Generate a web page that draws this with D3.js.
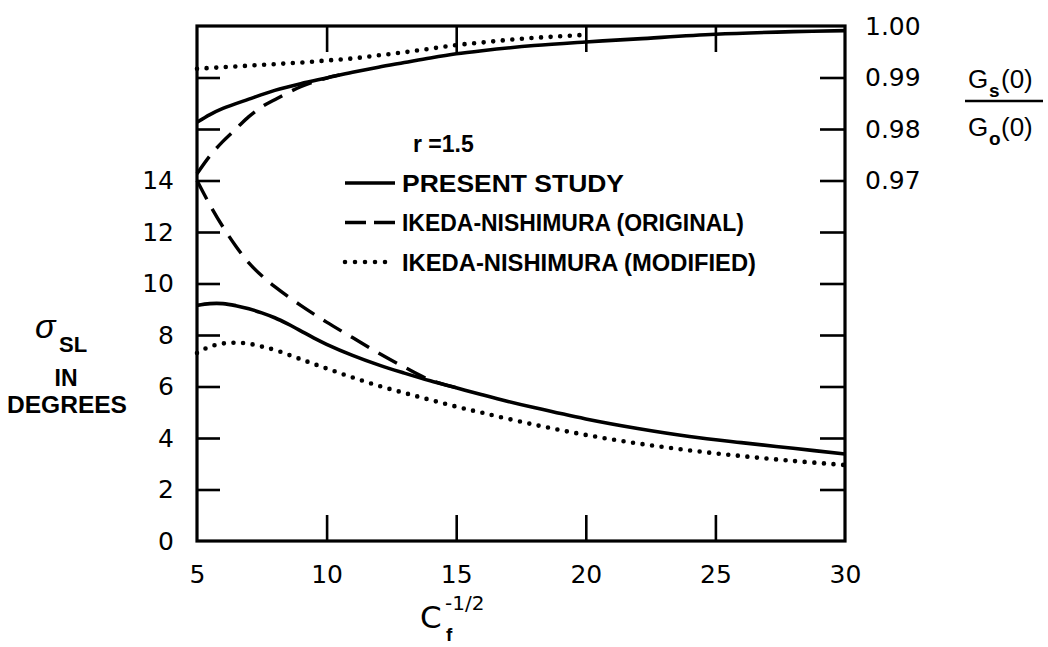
<!DOCTYPE html>
<html>
<head>
<meta charset="utf-8">
<script src="https://cdn.jsdelivr.net/npm/d3@7"></script>
<style>
  html, body { margin: 0; padding: 0; background: #fff; }
  svg { display: block; }
  text { font-family: "Liberation Sans", Arial, sans-serif; fill: #000; }
</style>
</head>
<body>
<svg id="chart" width="1048" height="647"></svg>
<script>
// C_f^(-1/2) values at which each curve was sampled
const cfPresentLow = [5, 5.5, 6, 6.5, 7, 7.5, 8, 8.5, 9, 9.5, 10, 11, 12, 13, 14, 15, 16, 17, 18, 20, 22, 24, 26, 28, 30];
const sigmaPresent = [9.15, 9.22, 9.22, 9.14, 9.02, 8.86, 8.67, 8.43, 8.16, 7.89, 7.64, 7.21, 6.84, 6.52, 6.22, 5.95, 5.68, 5.42, 5.18, 4.74, 4.37, 4.06, 3.82, 3.6, 3.38];

const cfOriginalLow = [5, 5.5, 6, 6.5, 7, 7.5, 8, 9, 10, 11, 12, 13, 14, 15];
const sigmaOriginal = [14.0, 13.05, 12.2, 11.45, 10.8, 10.3, 9.88, 9.15, 8.5, 7.9, 7.3, 6.75, 6.25, 5.95];

const cfModifiedLow = [5, 5.5, 6, 6.5, 7, 7.5, 8, 9, 10, 11, 12, 13, 14, 15, 16, 18, 20, 22, 24, 26, 28, 30];
const sigmaModified = [7.3, 7.55, 7.67, 7.7, 7.66, 7.55, 7.42, 7.06, 6.7, 6.35, 6.03, 5.75, 5.48, 5.22, 4.98, 4.52, 4.12, 3.79, 3.52, 3.3, 3.11, 2.95];

// Gs(0)/G0(0), read on the right-hand axis
const cfPresentHigh = [5, 5.5, 6, 7, 8, 9, 10, 11, 12, 13, 14, 15, 16, 18, 20, 22, 25, 28, 30];
const ratioPresent = [0.9813, 0.9828, 0.9840, 0.9858, 0.9875, 0.9888, 0.9899, 0.9910, 0.9920, 0.9929, 0.9938, 0.9946, 0.9952, 0.9962, 0.9969, 0.9975, 0.9984, 0.9989, 0.9991];

const cfOriginalHigh = [5, 5.5, 6, 6.5, 7, 7.5, 8, 9, 10, 10.5];
const ratioOriginal = [0.9713, 0.9748, 0.9776, 0.9800, 0.9824, 0.9843, 0.9857, 0.9882, 0.9899, 0.9905];

const cfModifiedHigh = [5, 6, 7, 8, 9, 10, 11, 12, 13, 14, 15, 16, 17, 18, 19, 20];
const ratioModified = [0.9917, 0.9920, 0.9923, 0.9926, 0.9929, 0.9933, 0.9937, 0.9943, 0.9949, 0.9956, 0.9963, 0.9968, 0.9973, 0.9977, 0.9980, 0.9983];

// tick values and labels
const xTicks = [5, 10, 15, 20, 25, 30];
const xInnerTicks = [10, 15, 20, 25];
const leftLabelTicks = [0, 2, 4, 6, 8, 10, 12, 14];
const leftInnerTicks = [2, 4, 6, 8, 10, 12, 14, 16, 18];
const rightLabelTicks = [0.97, 0.98, 0.99, 1.00];
const rightInnerTicks = [0.91, 0.92, 0.93, 0.94, 0.95, 0.96, 0.97, 0.98, 0.99];

const legendItems = [
  { label: "PRESENT STUDY", style: "solid" },
  { label: "IKEDA-NISHIMURA (ORIGINAL)", style: "dashed" },
  { label: "IKEDA-NISHIMURA (MODIFIED)", style: "dotted" }
];

const svg = d3.select("#chart");
const L = 197, R = 845, T = 26, B = 541;

const x = d3.scaleLinear().domain([5, 30]).range([L, R]);
const yL = d3.scaleLinear().domain([0, 20]).range([B, T]);
const yR = d3.scaleLinear().domain([0.90, 1.00]).range([B, T]);

const styles = {
  solid:  { dash: null,      width: 3.6, cap: "butt" },
  dashed: { dash: "21 11",   width: 3.4, cap: "butt" },
  dotted: { dash: "0 9.6",   width: 4.6, cap: "round" }
};

// inward ticks
const tickG = svg.append("g").attr("class", "ticks");
tickG.append("g").attr("transform", `translate(${L},0)`)
  .call(d3.axisLeft(yL).tickValues(leftInnerTicks).tickSize(-23).tickFormat(""));
tickG.append("g").attr("transform", `translate(${R},0)`)
  .call(d3.axisRight(yR).tickValues(rightInnerTicks).tickSize(-25).tickFormat(""));
tickG.append("g").attr("transform", `translate(0,${B})`)
  .call(d3.axisBottom(x).tickValues(xInnerTicks).tickSize(-26).tickFormat(""));
tickG.append("g").attr("transform", `translate(0,${T})`)
  .call(d3.axisTop(x).tickValues(xInnerTicks).tickSize(-26).tickFormat(""));
tickG.selectAll(".domain").remove();
tickG.selectAll(".tick line").attr("stroke", "#000").attr("stroke-width", 2.6);

// frame
svg.append("rect")
  .attr("x", L).attr("y", T).attr("width", R - L).attr("height", B - T)
  .attr("fill", "none").attr("stroke", "#000").attr("stroke-width", 3.2);

// tick labels
const labelFont = 25;
const lg = svg.append("g").attr("transform", `translate(${L},0)`)
  .call(d3.axisLeft(yL).tickValues(leftLabelTicks).tickSize(0).tickPadding(23).tickFormat(d3.format("d")));
const bg = svg.append("g").attr("transform", `translate(0,${B})`)
  .call(d3.axisBottom(x).tickValues(xTicks).tickSize(0).tickPadding(24).tickFormat(d3.format("d")));
const rg = svg.append("g").attr("transform", `translate(${R},0)`)
  .call(d3.axisRight(yR).tickValues(rightLabelTicks).tickSize(0).tickPadding(20).tickFormat(d3.format(".2f")));
[lg, bg, rg].forEach(g => {
  g.select(".domain").remove();
  g.selectAll("text").attr("font-size", labelFont).attr("fill", "#000")
    .style("font-family", "'DejaVu Sans', sans-serif");
});

// curves
const line = (xs, ys, yScale) => d3.line()
  .x((d, i) => x(xs[i]))
  .y(d => yScale(d))
  .curve(d3.curveCatmullRom.alpha(0.5))(ys);

const curves = [
  { xs: cfPresentLow,  ys: sigmaPresent,  scale: yL, style: "solid" },
  { xs: cfOriginalLow, ys: sigmaOriginal, scale: yL, style: "dashed" },
  { xs: cfModifiedLow, ys: sigmaModified, scale: yL, style: "dotted" },
  { xs: cfPresentHigh,  ys: ratioPresent,  scale: yR, style: "solid" },
  { xs: cfOriginalHigh, ys: ratioOriginal, scale: yR, style: "dashed" },
  { xs: cfModifiedHigh, ys: ratioModified, scale: yR, style: "dotted" }
];

svg.append("g").selectAll("path").data(curves).join("path")
  .attr("d", c => line(c.xs, c.ys, c.scale))
  .attr("fill", "none")
  .attr("stroke", "#000")
  .attr("stroke-width", c => styles[c.style].width)
  .attr("stroke-linecap", c => styles[c.style].cap)
  .attr("stroke-dasharray", c => styles[c.style].dash);

// legend
const leg = svg.append("g");
leg.append("text").attr("x", 413).attr("y", 152)
  .attr("font-size", 23).attr("font-weight", "bold")
  .text("r =1.5");
const legRows = leg.selectAll("g.row").data(legendItems).join("g")
  .attr("class", "row")
  .attr("transform", (d, i) => `translate(0,${183 + i * 39.5})`);
legRows.append("line")
  .attr("x1", 345).attr("x2", 395).attr("y1", 0).attr("y2", 0)
  .attr("stroke", "#000")
  .attr("stroke-width", d => styles[d.style].width)
  .attr("stroke-linecap", d => styles[d.style].cap)
  .attr("stroke-dasharray", d => d.style === "dashed" ? "21 8" : d.style === "dotted" ? "0 10" : null);
legRows.append("text")
  .attr("x", 402).attr("y", 8.5)
  .attr("font-size", 23).attr("font-weight", "bold")
  .attr("textLength", (d, i) => [222, 342, 354][i])
  .attr("lengthAdjust", "spacingAndGlyphs")
  .text(d => d.label);

// left axis title
const lt = svg.append("g");
lt.append("text").attr("x", 35).attr("y", 338)
  .attr("font-size", 34).attr("font-family", "'DejaVu Serif', serif").attr("font-style", "italic")
  .text("σ");
lt.append("text").attr("x", 59).attr("y", 352)
  .attr("font-size", 22).attr("font-weight", "bold")
  .text("SL");
lt.append("text").attr("x", 66).attr("y", 386)
  .attr("text-anchor", "middle").attr("font-size", 23).attr("font-weight", "bold")
  .text("IN");
lt.append("text").attr("x", 67).attr("y", 413)
  .attr("text-anchor", "middle").attr("font-size", 24).attr("font-weight", "bold")
  .attr("textLength", 120).attr("lengthAdjust", "spacingAndGlyphs")
  .text("DEGREES");

// bottom axis title  C_f^(-1/2)
const bt = svg.append("g");
bt.append("text").attr("x", 420).attr("y", 628).attr("font-size", 31)
  .style("font-family", "'DejaVu Sans', sans-serif").text("C");
bt.append("text").attr("x", 446).attr("y", 641).attr("font-size", 19).attr("font-weight", "bold").text("f");
bt.append("text").attr("x", 445).attr("y", 610).attr("font-size", 20)
  .style("font-family", "'DejaVu Sans', sans-serif").text("-1/2");

// right axis title  Gs(0)/G0(0)
const rt = svg.append("g").style("font-family", "'DejaVu Sans', sans-serif");
rt.append("text").attr("x", 968).attr("y", 88).attr("font-size", 26).text("G");
rt.append("text").attr("x", 989).attr("y", 97).attr("font-size", 19).attr("font-weight", "bold").text("s");
rt.append("text").attr("x", 1001).attr("y", 88).attr("font-size", 26).text("(0)");
rt.append("line").attr("x1", 965).attr("x2", 1043).attr("y1", 101).attr("y2", 101)
  .attr("stroke", "#000").attr("stroke-width", 2.6);
rt.append("text").attr("x", 968).attr("y", 136).attr("font-size", 26).text("G");
rt.append("text").attr("x", 989).attr("y", 145).attr("font-size", 19).attr("font-weight", "bold").text("o");
rt.append("text").attr("x", 1001).attr("y", 136).attr("font-size", 26).text("(0)");
</script>
</body>
</html>
